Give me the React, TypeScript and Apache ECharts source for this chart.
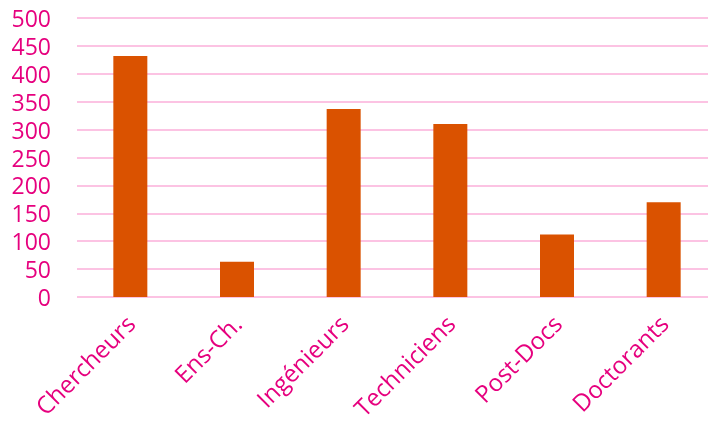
import React, { useEffect, useRef } from "react";
import * as echarts from "echarts";

const categories = ["Chercheurs", "Ens-Ch.", "Ingénieurs", "Techniciens", "Post-Docs", "Doctorants"];
const values = [432, 63, 337, 310, 112, 170];
const yMin = 0;
const yMax = 500;
const yStep = 50;

const LABEL = "#E6007E";
const GRID = "#FCC3E3";
const BAR = "#DA5200";
const FONT = "'Open Sans', sans-serif";

export default function App() {
  const ref = useRef<HTMLDivElement>(null);
  useEffect(() => {
    if (!ref.current) return;
    const chart = echarts.init(ref.current, undefined, { renderer: "svg" });
    chart.setOption({
      animation: false,
      grid: { left: 77, top: 18, bottom: 127, width: 640, containLabel: false, outerBoundsMode: "none" },
      xAxis: {
        type: "category",
        data: categories,
        axisLine: { show: false },
        axisTick: { show: false },
        axisLabel: {
          rotate: 45,
          margin: 22,
          color: LABEL,
          fontFamily: FONT,
          fontSize: 24,
          interval: 0,
        },
      },
      yAxis: {
        type: "value",
        min: yMin,
        max: yMax,
        interval: yStep,
        axisLine: { show: false },
        axisTick: { show: false },
        axisLabel: { color: LABEL, fontFamily: FONT, fontSize: 23, lineHeight: 24, margin: 26 },
        splitLine: { lineStyle: { color: GRID, width: 2 } },
      },
      series: [
        {
          type: "bar",
          data: values,
          barWidth: 34,
          itemStyle: { color: BAR },
        },
      ],
    });
    return () => chart.dispose();
  }, []);
  return <div ref={ref} style={{ position: "fixed", left: 0, top: 0, width: 708, height: 424 }} />;
}
